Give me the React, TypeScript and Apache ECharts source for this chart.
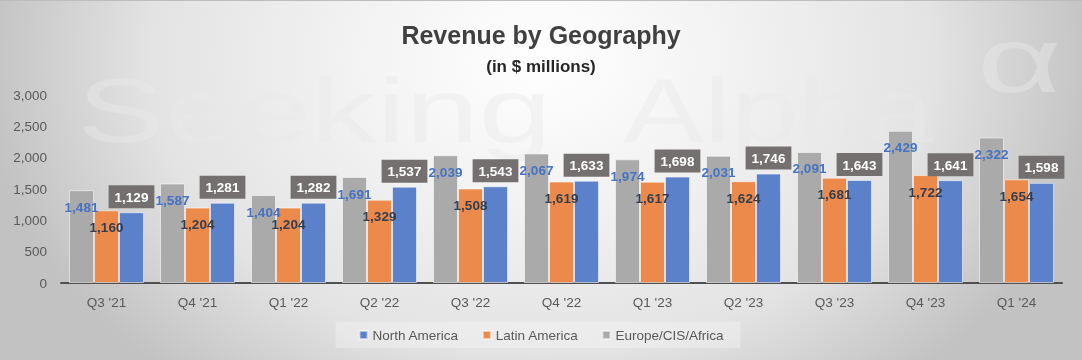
import React, { useEffect, useRef } from 'react';
import * as echarts from 'echarts';

const categories = ["Q3 '21", "Q4 '21", "Q1 '22", "Q2 '22", "Q3 '22", "Q4 '22", "Q1 '23", "Q2 '23", "Q3 '23", "Q4 '23", "Q1 '24"];
const europeCisAfrica = [1481, 1587, 1404, 1691, 2039, 2067, 1974, 2031, 2091, 2429, 2322];
const latinAmerica = [1160, 1204, 1204, 1329, 1508, 1619, 1617, 1624, 1681, 1722, 1654];
const northAmerica = [1129, 1281, 1282, 1537, 1543, 1633, 1698, 1746, 1643, 1641, 1598];
const legendOrder = ['North America', 'Latin America', 'Europe/CIS/Africa'];

const fmt = (v: number) => Number(v).toLocaleString('en-US');
const FONT = "'Liberation Sans', Arial, sans-serif";
const WM = 'rgba(232,232,232,0.45)';

export default function App() {
  const ref = useRef<HTMLDivElement>(null);
  useEffect(() => {
    const chart = echarts.init(ref.current!, null, { renderer: 'svg' });
    const border = { borderColor: 'rgba(255,255,255,0.55)', borderWidth: 1 };
    chart.setOption({
      animation: false,
      backgroundColor: 'transparent',
      textStyle: { fontFamily: FONT },
      title: {
        text: 'Revenue by Geography',
        subtext: '(in $ millions)',
        left: 'center',
        top: 20,
        padding: 0,
        itemGap: 6,
        textStyle: { fontSize: 25, fontWeight: 'bold', color: '#404040', lineHeight: 30, fontFamily: FONT },
        subtextStyle: { fontSize: 17, fontWeight: 'bold', color: '#262626', lineHeight: 20, fontFamily: FONT },
      },
      graphic: [
        { type: 'line', silent: true, z: 0, shape: { x1: 0, y1: 0.5, x2: 1082, y2: 0.5 }, style: { stroke: '#bdbdbd', lineWidth: 1 } },
        { type: 'text', silent: true, z: 0, x: 77, y: 111, scaleX: 1.46, style: { text: 'Seeking', fontSize: 90, fontFamily: FONT, fill: WM, textVerticalAlign: 'middle' } },
        { type: 'text', silent: true, z: 0, x: 623, y: 111, scaleX: 1.35, style: { text: 'Alpha', fontSize: 90, fontFamily: FONT, fill: WM, textVerticalAlign: 'middle' } },
        { type: 'text', silent: true, z: 0, x: 977, y: 60, scaleX: 1.6, style: { text: 'α', fontSize: 92, fontFamily: FONT, fill: WM, textVerticalAlign: 'middle' } },
      ],
      legend: {
        data: legendOrder,
        left: 'center',
        top: 322,
        padding: [6, 17, 6, 23],
        backgroundColor: 'rgba(255,255,255,0.28)',
        itemWidth: 8,
        itemHeight: 8,
        itemGap: 23,
        icon: 'rect',
        textStyle: { color: '#595959', fontSize: 13.5, fontFamily: FONT },
      },
      grid: { left: 61, right: 20, top: 95, bottom: 77 },
      xAxis: {
        type: 'category',
        data: categories,
        axisLine: { lineStyle: { color: '#505050', width: 2 } },
        axisTick: { show: false },
        axisLabel: { color: '#595959', fontSize: 13.5, margin: 12 },
      },
      yAxis: {
        type: 'value',
        min: 0,
        max: 3000,
        interval: 500,
        splitLine: { show: false },
        axisLine: { show: false },
        axisTick: { show: false },
        axisLabel: { color: '#595959', fontSize: 13.5, margin: 14, formatter: (v: number) => fmt(v) },
      },
      series: [
        {
          name: 'Europe/CIS/Africa',
          type: 'bar',
          data: europeCisAfrica,
          barGap: '0%',
          barCategoryGap: '17.6%',
          itemStyle: { color: '#AAAAAA', ...border },
          label: { show: true, position: 'insideTop', distance: 9, color: '#4472C4', fontWeight: 'bold', fontSize: 13.5, lineHeight: 16, formatter: (p: any) => fmt(p.value) },
        },
        {
          name: 'Latin America',
          type: 'bar',
          data: latinAmerica,
          barGap: '0%',
          barCategoryGap: '17.6%',
          itemStyle: { color: '#EC8A4B', ...border },
          label: { show: true, position: 'insideTop', distance: 9, color: '#323E4F', fontWeight: 'bold', fontSize: 13.5, lineHeight: 16, formatter: (p: any) => fmt(p.value) },
        },
        {
          name: 'North America',
          type: 'bar',
          data: northAmerica,
          barGap: '0%',
          barCategoryGap: '17.6%',
          itemStyle: { color: '#5A81C9', ...border },
          label: {
            show: true,
            position: 'top',
            distance: 4,
            color: '#ffffff',
            fontWeight: 'bold',
            fontSize: 13.5,
            lineHeight: 16,
            backgroundColor: '#747070',
            padding: [4, 6, 3, 6],
            formatter: (p: any) => fmt(p.value),
          },
        },
      ],
    });
    return () => chart.dispose();
  }, []);
  return (
    <div
      ref={ref}
      style={{
        position: 'fixed',
        left: 0,
        top: 0,
        width: 1082,
        height: 360,
        background: 'radial-gradient(ellipse 560px 420px at 541px 60px, #ffffff 0%, #f3f3f3 32%, #e3e3e3 70%, #c2c2c2 100%)',
      }}
    />
  );
}
